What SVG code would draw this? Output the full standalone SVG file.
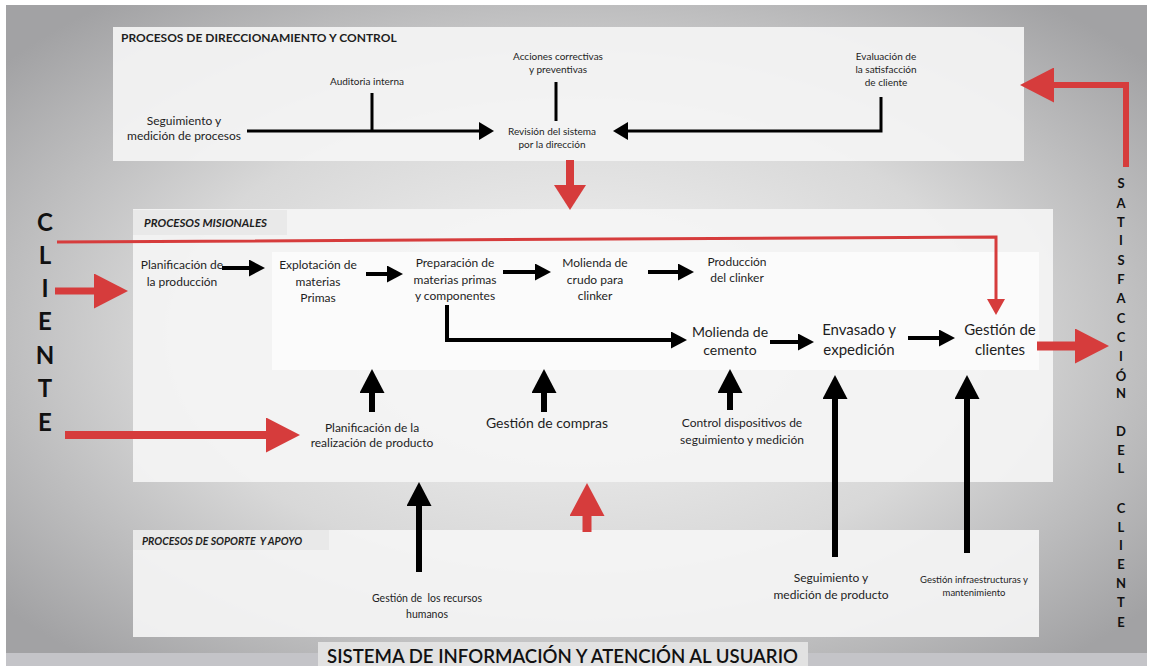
<svg xmlns="http://www.w3.org/2000/svg" width="1151" height="666" viewBox="0 0 1151 666">
<style>
text{font-family:Lato,"Open Sans","Liberation Sans",sans-serif;fill:#1e1e1e}
.c{text-anchor:middle}
.s10{font-size:10px}
.s12{font-size:12px}
.s14{font-size:14px}
.s15{font-size:15px}
.hd{font-weight:bold;font-size:12px}
.hi{font-weight:bold;font-style:italic}
.pre{white-space:pre}
.big{font-weight:bold;font-size:24px;fill:#111;text-anchor:middle}
.vt{font-weight:bold;font-size:13px;fill:#111;text-anchor:middle}
.panel{fill:#f4f4f4;fill-opacity:0.93}
.lab{fill:#e9e9e9}
.k{fill:none;stroke:#000}
.r{fill:none;stroke:#d63c3c}
</style>
<defs>
<radialGradient id="bg" cx="0.5" cy="0.5" r="0.65">
<stop offset="0" stop-color="#f6f6f6"/>
<stop offset="0.55" stop-color="#d8d8d8"/>
<stop offset="1" stop-color="#a2a2a4"/>
</radialGradient>
<marker id="hTop" markerUnits="userSpaceOnUse" viewBox="0 0 15 18" markerWidth="15" markerHeight="18" refX="1" refY="9" orient="auto"><path d="M0,0 L15,9 L0,18 z" fill="#000"/></marker>
<marker id="hFlow" markerUnits="userSpaceOnUse" viewBox="0 0 16 17" markerWidth="16" markerHeight="17" refX="1" refY="8.5" orient="auto"><path d="M0,0 L16,8.5 L0,17 z" fill="#000"/></marker>
<marker id="hUp" markerUnits="userSpaceOnUse" viewBox="0 0 24 25" markerWidth="24" markerHeight="25" refX="1" refY="12.5" orient="auto"><path d="M0,0 L24,12.5 L0,25 z" fill="#000"/></marker>
<marker id="hRed" markerUnits="userSpaceOnUse" viewBox="0 0 34 35" markerWidth="34" markerHeight="35" refX="1" refY="17.5" orient="auto"><path d="M0,0 L34,17.5 L0,35 z" fill="#d63c3c"/></marker>
<marker id="hRedThin" markerUnits="userSpaceOnUse" viewBox="0 0 16 18" markerWidth="16" markerHeight="18" refX="1" refY="9" orient="auto"><path d="M0,0 L16,9 L0,18 z" fill="#d63c3c"/></marker>
<marker id="hRedDown" markerUnits="userSpaceOnUse" viewBox="0 0 25 32" markerWidth="25" markerHeight="32" refX="1" refY="16" orient="auto"><path d="M0,0 L25,16 L0,32 z" fill="#d63c3c"/></marker>
<marker id="hRedUp" markerUnits="userSpaceOnUse" viewBox="0 0 33 35" markerWidth="33" markerHeight="35" refX="1" refY="17.5" orient="auto"><path d="M0,0 L33,17.5 L0,35 z" fill="#d63c3c"/></marker>
</defs>

<rect x="0" y="0" width="1151" height="666" fill="#ffffff"/>
<rect x="6" y="5" width="1141" height="661" fill="url(#bg)"/>
<rect x="6" y="653" width="1141" height="13" fill="#c4c4c8"/>

<g id="panel-direccionamiento">
<rect class="panel" x="113" y="27" width="911" height="134"/>
<text class="hd" x="121" y="42">PROCESOS DE DIRECCIONAMIENTO Y CONTROL</text>
</g>
<g id="panel-misionales">
<rect class="panel" x="133" y="209" width="920" height="273"/>
<rect x="272" y="252" width="767" height="118" fill="#fbfbfb"/>
<rect class="lab" x="133" y="210" width="154" height="25"/>
<text class="hi" style="font-size:11.5px" x="144" y="227">PROCESOS MISIONALES</text>
</g>
<g id="panel-soporte">
<rect class="panel" x="133" y="530" width="906" height="107"/>
<rect class="lab" x="133" y="530" width="196" height="20"/>
<text class="hi pre" style="font-size:10.5px" x="142" y="545">PROCESOS DE SOPORTE  Y APOYO</text>
</g>

<g id="connectors">
<path class="k" stroke-width="3" d="M247,131 H480" marker-end="url(#hTop)"/>
<path class="k" stroke-width="3" d="M372,93 V131"/>
<path class="k" stroke-width="3" d="M556,82 V121"/>
<path class="k" stroke-width="3" d="M881,97 V131 H627" marker-end="url(#hTop)"/>
<path class="r" stroke-width="6" d="M1126,167 V85 H1053" marker-end="url(#hRed)"/>
<path class="r" stroke-width="8" d="M570,160 V186" marker-end="url(#hRedDown)"/>
<path class="r" stroke-width="3" d="M57,242 L996,237 V300" marker-end="url(#hRedThin)"/>
<path class="r" stroke-width="7" d="M55,291 H95" marker-end="url(#hRed)"/>
<path class="r" stroke-width="8" d="M65,435 H267" marker-end="url(#hRed)"/>
<path class="r" stroke-width="9" d="M1037,346 H1076" marker-end="url(#hRed)"/>
<path class="r" stroke-width="9" d="M587,532 V515" marker-end="url(#hRedUp)"/>
<path class="k" stroke-width="4" d="M222,268 H250" marker-end="url(#hFlow)"/>
<path class="k" stroke-width="4" d="M366,274 H388" marker-end="url(#hFlow)"/>
<path class="k" stroke-width="4" d="M503,272 H536" marker-end="url(#hFlow)"/>
<path class="k" stroke-width="4" d="M648,272 H679" marker-end="url(#hFlow)"/>
<path class="k" stroke-width="4" d="M447,305 V340 H672" marker-end="url(#hFlow)"/>
<path class="k" stroke-width="4" d="M770,342 H799" marker-end="url(#hFlow)"/>
<path class="k" stroke-width="4" d="M908,338 H940" marker-end="url(#hFlow)"/>
<path class="k" stroke-width="6" d="M372,412 V392" marker-end="url(#hUp)"/>
<path class="k" stroke-width="6" d="M544,412 V392" marker-end="url(#hUp)"/>
<path class="k" stroke-width="6" d="M730,410 V392" marker-end="url(#hUp)"/>
<path class="k" stroke-width="6" d="M835,557 V398" marker-end="url(#hUp)"/>
<path class="k" stroke-width="6" d="M967,553 V398" marker-end="url(#hUp)"/>
<path class="k" stroke-width="6" d="M419,572 V505" marker-end="url(#hUp)"/>
</g>

<g id="n-seguimiento-procesos"><text class="c s12" x="184" y="125">Seguimiento y</text><text class="c s12" x="184" y="140">medición de procesos</text></g>
<g id="n-auditoria"><text class="c s10" x="367" y="85">Auditoria interna</text></g>
<g id="n-acciones"><text class="c s10" x="558" y="60">Acciones correctivas</text><text class="c s10" x="558" y="73">y preventivas</text></g>
<g id="n-revision"><text class="c s10" x="552" y="135">Revisión del sistema</text><text class="c s10" x="552" y="148">por la dirección</text></g>
<g id="n-evaluacion"><text class="c s10" x="886" y="60">Evaluación de</text><text class="c s10" x="886" y="73">la satisfacción</text><text class="c s10" x="886" y="86">de cliente</text></g>

<g id="n-cliente">
<text class="big" x="45" y="231">C</text>
<text class="big" x="45" y="264">L</text>
<text class="big" x="45" y="297">I</text>
<text class="big" x="45" y="330">E</text>
<text class="big" x="45" y="364">N</text>
<text class="big" x="45" y="397">T</text>
<text class="big" x="45" y="431">E</text>
</g>

<g id="n-plan-produccion"><text class="c s12" x="182" y="269">Planificación de</text><text class="c s12" x="182" y="286">la producción</text></g>
<g id="n-explotacion"><text class="c s12" x="318" y="269">Explotación de</text><text class="c s12" x="318" y="286">materias</text><text class="c s12" x="318" y="302">Primas</text></g>
<g id="n-preparacion"><text class="c s12" x="455" y="267">Preparación de</text><text class="c s12" x="455" y="284">materias primas</text><text class="c s12" x="455" y="300">y componentes</text></g>
<g id="n-molienda-crudo"><text class="c s12" x="595" y="267">Molienda de</text><text class="c s12" x="595" y="284">crudo para</text><text class="c s12" x="595" y="300">clinker</text></g>
<g id="n-clinker"><text class="c s12" x="737" y="266">Producción</text><text class="c s12" x="737" y="282">del clinker</text></g>
<g id="n-molienda-cemento"><text class="c s14" x="730" y="337">Molienda de</text><text class="c s14" x="730" y="355">cemento</text></g>
<g id="n-envasado"><text class="c s15" x="859" y="335">Envasado y</text><text class="c s15" x="859" y="355">expedición</text></g>
<g id="n-gestion-clientes"><text class="c s15" x="1000" y="335">Gestión de</text><text class="c s15" x="1000" y="355">clientes</text></g>
<g id="n-plan-realizacion"><text class="c s12" x="372" y="432">Planificación de la</text><text class="c s12" x="372" y="447">realización de producto</text></g>
<g id="n-compras"><text class="c s14" x="547" y="428">Gestión de compras</text></g>
<g id="n-control"><text class="c s12" x="742" y="427">Control dispositivos de</text><text class="c s12" x="742" y="444">seguimiento y medición</text></g>

<g id="n-rrhh"><text class="c pre" style="font-size:10.5px" x="427" y="602">Gestión de  los recursos</text><text class="c" style="font-size:10.5px" x="427" y="618">humanos</text></g>
<g id="n-seguimiento-producto"><text class="c s12" x="831" y="582">Seguimiento y</text><text class="c s12" x="831" y="599">medición de producto</text></g>
<g id="n-infraestructura"><text class="c" style="font-size:9.5px" x="974" y="583">Gestión infraestructuras y</text><text class="c" style="font-size:9.5px" x="974" y="596">mantenimiento</text></g>

<g id="n-satisfaccion">
<text class="vt" x="1121" y="188">S</text>
<text class="vt" x="1121" y="208">A</text>
<text class="vt" x="1121" y="227">T</text>
<text class="vt" x="1121" y="245">I</text>
<text class="vt" x="1121" y="265">S</text>
<text class="vt" x="1121" y="284">F</text>
<text class="vt" x="1121" y="303">A</text>
<text class="vt" x="1121" y="323">C</text>
<text class="vt" x="1121" y="342">C</text>
<text class="vt" x="1121" y="361">I</text>
<text class="vt" x="1121" y="381">Ó</text>
<text class="vt" x="1121" y="398">N</text>
<text class="vt" x="1121" y="436">D</text>
<text class="vt" x="1121" y="455">E</text>
<text class="vt" x="1121" y="473">L</text>
<text class="vt" x="1121" y="513">C</text>
<text class="vt" x="1121" y="532">L</text>
<text class="vt" x="1121" y="550">I</text>
<text class="vt" x="1121" y="569">E</text>
<text class="vt" x="1121" y="588">N</text>
<text class="vt" x="1121" y="607">T</text>
<text class="vt" x="1121" y="627">E</text>
</g>

<g id="n-sistema">
<rect x="318" y="642" width="490" height="24" fill="#e2e2e2"/>
<text x="327" y="663" style="font-size:20px;font-weight:600;fill:#111" textLength="471" lengthAdjust="spacingAndGlyphs">SISTEMA DE INFORMACIÓN Y ATENCIÓN AL USUARIO</text>
</g>
</svg>
